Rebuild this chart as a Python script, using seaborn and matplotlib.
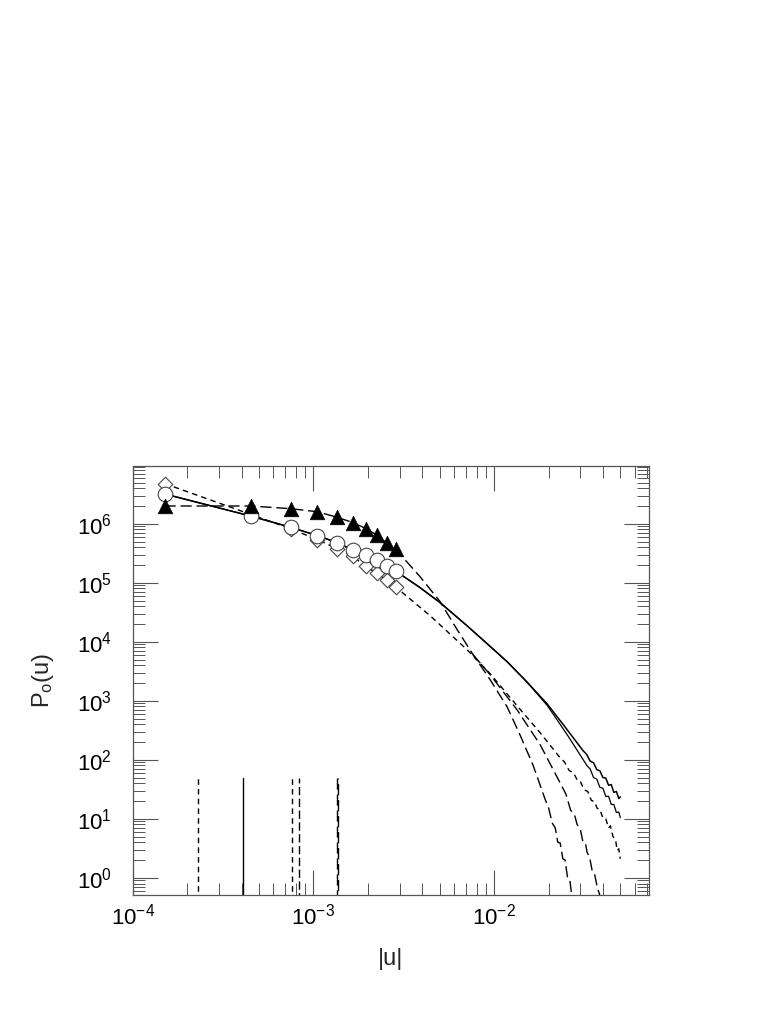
import matplotlib
matplotlib.use("Agg")
import numpy as np
import matplotlib.pyplot as plt
import matplotlib.ticker as mticker
import seaborn as sns

# bin centres that carry symbols
u_marks = [1.5e-4, 4.5e-4, 7.5e-4, 1.05e-3, 1.35e-3, 1.65e-3, 1.95e-3, 2.25e-3, 2.55e-3, 2.85e-3]
p_circles = [3.2e6, 1.35e6, 8.7e5, 6.3e5, 4.8e5, 3.6e5, 2.9e5, 2.4e5, 1.9e5, 1.58e5]
p_diamonds = [4.8e6, 1.44e6, 8.2e5, 5.4e5, 3.8e5, 2.8e5, 1.9e5, 1.44e5, 1.1e5, 8.5e4]
p_triangles = [2.0e6, 2.0e6, 1.8e6, 1.6e6, 1.29e6, 1.05e6, 8.3e5, 6.4e5, 4.7e5, 3.7e5]

# solid curve (circles)
u_a_tail = [3.89e-3, 5.02e-3, 7.08e-3, 9.14e-3, 1.18e-2, 1.52e-2, 1.97e-2, 2.47e-2, 3.11e-2,
            3.25e-2, 3.4e-2, 3.55e-2, 3.7e-2, 3.85e-2, 4.0e-2, 4.15e-2, 4.3e-2, 4.45e-2,
            4.6e-2, 4.75e-2, 4.9e-2, 5.0e-2]
p_a_tail = [8.28e4, 4.61e4, 1.87e4, 9.3e3, 4.6e3, 2.08e3, 880, 360, 142,
            124, 95, 89, 68, 65, 50, 49, 37, 38,
            28, 29, 22, 23.5]

# second solid curve, it leaves the first one near 2e-2
u_b_tail = [3.89e-3, 5.02e-3, 7.08e-3, 9.14e-3, 1.18e-2, 1.52e-2, 1.97e-2, 2.54e-2, 3.27e-2,
            3.4e-2, 3.55e-2, 3.7e-2, 3.85e-2, 4.0e-2, 4.15e-2, 4.3e-2, 4.45e-2, 4.6e-2,
            4.75e-2, 4.9e-2, 4.99e-2]
p_b_tail = [8.28e4, 4.61e4, 1.87e4, 9.3e3, 4.6e3, 2.08e3, 830, 265, 79,
            70, 50, 47, 34, 33, 24, 24, 17.5, 17.5,
            12.8, 13, 10.5]

# short dashed curve (diamonds)
u_c_tail = [4.42e-3, 7.08e-3, 9.51e-3, 1.34e-2, 1.8e-2, 2.32e-2, 2.45e-2, 2.6e-2, 2.75e-2,
            2.9e-2, 3.0e-2, 3.15e-2, 3.3e-2, 3.45e-2, 3.6e-2, 3.72e-2, 3.85e-2, 4.0e-2,
            4.15e-2, 4.3e-2, 4.4e-2, 4.55e-2, 4.7e-2, 4.8e-2, 4.9e-2, 4.99e-2]
p_c_tail = [2.77e4, 7.35e3, 2.87e3, 823, 286, 108, 92, 66, 60,
            44, 43, 31, 29, 20.5, 19.5, 15, 14.5, 10.2,
            10, 7.0, 7.6, 5.0, 4.4, 2.9, 3.1, 2.1]

# long dashed curve (triangles); it splits into two branches near 7.6e-3
u_d_tail = [3.89e-3, 5.02e-3, 6.24e-3, 7.65e-3]
p_d_tail = [1.27e5, 4.8e4, 1.61e4, 6.04e3]
u_d1 = [9.51e-3, 1.18e-2, 1.39e-2, 1.64e-2, 1.92e-2, 2.0e-2, 2.1e-2, 2.18e-2, 2.25e-2,
        2.32e-2, 2.4e-2, 2.47e-2, 2.55e-2, 2.62e-2, 2.68e-2, 2.74e-2]
p_d1 = [2.27e3, 791, 265, 82, 21, 15.5, 8.4, 7.0, 4.0,
        3.9, 2.1, 2.0, 1.0, 0.95, 0.55, 0.45]
u_d2 = [9.51e-3, 1.34e-2, 1.8e-2, 2.32e-2, 2.5e-2, 2.65e-2, 2.78e-2, 2.88e-2, 3.0e-2,
        3.1e-2, 3.2e-2, 3.27e-2, 3.38e-2, 3.5e-2, 3.6e-2, 3.72e-2, 3.85e-2]
p_d2 = [2.76e3, 703, 179, 40.5, 26, 14, 12, 8.0, 6.6,
        4.1, 3.9, 2.7, 2.2, 1.25, 1.15, 0.7, 0.5]

# vertical marker lines near the bottom
vline_u = [2.30e-4, 4.08e-4, 7.6e-4, 8.3e-4, 1.35e-3, 1.36e-3]
vline_top = 50

sns.set_style("ticks")
plt.rcParams["font.family"] = ["Liberation Sans", "DejaVu Sans"]
plt.rcParams["mathtext.fontset"] = "custom"
plt.rcParams["mathtext.rm"] = "Liberation Sans"
plt.rcParams["mathtext.it"] = "Liberation Sans:italic"
plt.rcParams["mathtext.default"] = "regular"

fig = plt.figure(figsize=(7.81, 10.11), dpi=100)
ax = fig.add_axes([0.170, 0.1147, 0.661, 0.4243])
ax.set_xscale("log")
ax.set_yscale("log")

short_dash = (0, (4, 3))
long_dash = (0, (8, 3.5))

sns.lineplot(x=u_marks + u_a_tail, y=p_circles + p_a_tail, ax=ax, color="black",
             lw=1.1, sort=False, estimator=None)
sns.lineplot(x=u_marks + u_b_tail, y=p_circles + p_b_tail, ax=ax, color="black",
             lw=0.9, sort=False, estimator=None)
sns.lineplot(x=u_marks + u_c_tail, y=p_diamonds + p_c_tail, ax=ax, color="black",
             lw=1.0, linestyle=short_dash, sort=False, estimator=None)
sns.lineplot(x=u_marks + u_d_tail + u_d1, y=p_triangles + p_d_tail + p_d1, ax=ax,
             color="black", lw=1.0, linestyle=long_dash, sort=False, estimator=None)
sns.lineplot(x=u_d_tail[-1:] + u_d2, y=p_d_tail[-1:] + p_d2, ax=ax,
             color="black", lw=1.0, linestyle=long_dash, sort=False, estimator=None)

# vertical lines
vstyles = [short_dash, "-", short_dash, (0, (6, 2.5)), long_dash, (4, (8, 3.5))]
for u, ls in zip(vline_u, vstyles):
    ax.plot([u, u], [0.4, vline_top], color="black", lw=1.0, linestyle=ls)

# symbols
sns.scatterplot(x=u_marks, y=p_diamonds, ax=ax, marker="D", s=55, facecolor="white",
                edgecolor="#444444", linewidth=0.8, zorder=3)
sns.scatterplot(x=u_marks, y=p_circles, ax=ax, marker="o", s=110, facecolor="white",
                edgecolor="#444444", linewidth=0.8, zorder=4)
sns.scatterplot(x=u_marks, y=p_triangles, ax=ax, marker="^", s=110, color="black",
                edgecolor="black", linewidth=0.5, zorder=5)

ax.set_xlim(1e-4, 0.072)
ax.set_ylim(0.51, 9.5e6)

ax.xaxis.set_major_locator(mticker.LogLocator(base=10, numticks=10))
ax.xaxis.set_minor_locator(mticker.LogLocator(base=10, subs=np.arange(2, 10), numticks=20))
ax.yaxis.set_major_locator(mticker.LogLocator(base=10, numticks=12))
ax.yaxis.set_minor_locator(mticker.LogLocator(base=10, subs=np.arange(2, 10), numticks=20))
ax.xaxis.set_minor_formatter(mticker.NullFormatter())
ax.yaxis.set_minor_formatter(mticker.NullFormatter())

ax.tick_params(which="both", direction="in", top=True, right=True, colors="#555555",
               labelcolor="black")
ax.tick_params(which="major", length=18, width=0.8, labelsize=16)
ax.tick_params(which="minor", length=8.5, width=0.7)
ax.tick_params(axis="x", which="major", pad=6)
ax.tick_params(axis="y", which="major", pad=15)

for sp in ax.spines.values():
    sp.set_color("#555555")
    sp.set_linewidth(0.9)

ax.set_xlabel("|u|", fontsize=17)
ax.set_ylabel(r"P$_{\rm o}$(u)", fontsize=17)
ax.xaxis.set_label_coords(0.5, -0.124)
ax.yaxis.set_label_coords(-0.149, 0.5)

fig.savefig("out.png", dpi=100)
